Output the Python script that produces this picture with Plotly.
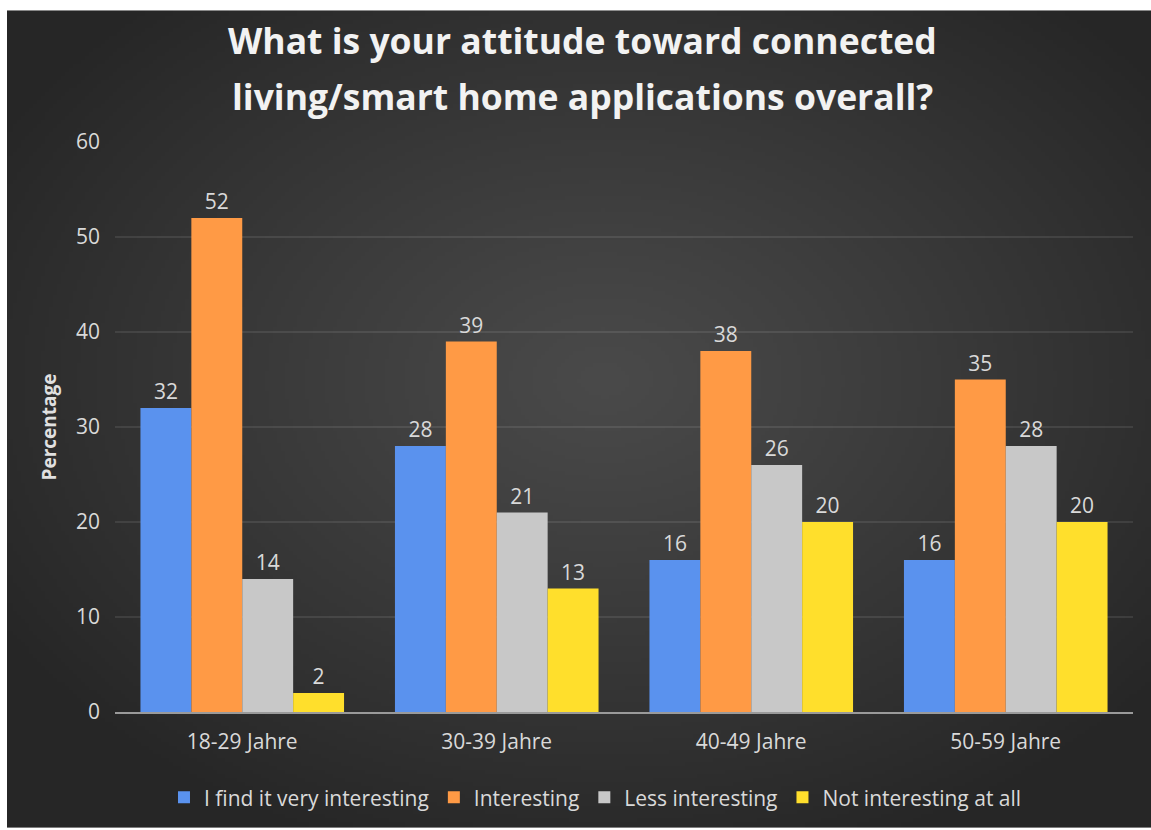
import base64
import struct
import zlib

import numpy as np
import plotly.graph_objects as go

# ---------------- data ----------------
categories = ["18-29 Jahre", "30-39 Jahre", "40-49 Jahre", "50-59 Jahre"]
series_names = ["I find it very interesting", "Interesting", "Less interesting", "Not interesting at all"]
very_interesting = [32, 28, 16, 16]
interesting = [52, 39, 38, 35]
less_interesting = [14, 21, 26, 28]
not_interesting = [2, 13, 20, 20]
y_ticks = [0, 10, 20, 30, 40, 50, 60]
title_lines = ["What is your attitude toward connected", "living/smart home applications overall?"]

series_values = [very_interesting, interesting, less_interesting, not_interesting]
colors = ["#5a92ee", "#ff9a45", "#c8c8c8", "#ffdf2c"]

# ---------------- background (radial gradient png) ----------------
W, H = 1151, 830
L, R, T, B = 115, 18, 142, 116
pw, ph = W - L - R, H - T - B


def make_png(arr):
    h, w, _ = arr.shape
    raw = b"".join(b"\x00" + arr[i].tobytes() for i in range(h))

    def chunk(tag, data):
        c = struct.pack(">I", len(data)) + tag + data
        return c + struct.pack(">I", zlib.crc32(tag + data) & 0xFFFFFFFF)

    return (b"\x89PNG\r\n\x1a\n" + chunk(b"IHDR", struct.pack(">IIBBBBB", w, h, 8, 2, 0, 0, 0))
            + chunk(b"IDAT", zlib.compress(raw, 9)) + chunk(b"IEND", b""))


gw, gh = 286, 205
yy, xx = np.mgrid[0:gh, 0:gw]
cx, cy = gw * 0.52, gh * 0.45
d = np.sqrt(((xx - cx) / (gw * 0.62)) ** 2 + ((yy - cy) / (gh * 0.62)) ** 2)
d = np.clip(d, 0, 1)
inner, outer = 74, 38
val = (inner + (outer - inner) * d ** 1.1).astype(np.uint8)
img = np.stack([val, val, val], axis=-1)
uri = "data:image/png;base64," + base64.b64encode(make_png(img)).decode()

bx0, by0 = 7, 10
img_x = (bx0 - L) / pw
img_y = (H - B - by0) / ph
img_sx = (W - bx0) / pw
img_sy = (H - by0) / ph


def py(pixel_y):
    return (H - B - pixel_y) / ph


# ---------------- figure ----------------
fig = go.Figure()
for name, vals, col in zip(series_names, series_values, colors):
    fig.add_trace(go.Bar(
        x=categories, y=vals, name=name,
        marker=dict(color=col, line=dict(width=0)),
        text=[str(v) for v in vals], textposition="outside",
        textfont=dict(color="#d9d9d9", size=21, family="Open Sans"),
        cliponaxis=False,
    ))

annotations = []
for line, ypix in zip(title_lines, [40, 96]):
    annotations.append(dict(
        text=line, x=0.459, xref="paper", xanchor="center",
        y=py(ypix), yref="paper", yanchor="middle", showarrow=False,
        font=dict(size=35.5, color="#f2f2f2", family="Open Sans", weight="bold"),
    ))

fig.update_layout(
    width=W, height=H,
    margin=dict(l=L, r=R, t=T, b=B),
    paper_bgcolor="white",
    plot_bgcolor="rgba(0,0,0,0)",
    barmode="group", bargap=0.2, bargroupgap=0,
    font=dict(family="Open Sans", color="#d9d9d9", size=21),
    annotations=annotations,
    xaxis=dict(
        showgrid=False, showline=True, linecolor="#9a9a9a", linewidth=2,
        ticks="", tickfont=dict(size=21, color="#d9d9d9"), ticklabelstandoff=10,
    ),
    yaxis=dict(
        range=[0, 60], tickvals=y_ticks, showgrid=True, gridcolor="rgba(255,255,255,0.09)",
        gridwidth=2, zeroline=False, showline=False, ticks="",
        tickfont=dict(size=21, color="#d9d9d9"), ticklabelstandoff=14,
        title=dict(text="<b>Percentage</b>", font=dict(size=19, color="#e0e0e0"), standoff=14),
    ),
    legend=dict(
        orientation="h", x=0.472, xanchor="center", y=py(800), yanchor="middle",
        font=dict(size=21, color="#d9d9d9"), bgcolor="rgba(0,0,0,0)",
        itemwidth=30, tracegroupgap=0,
    ),
    images=[dict(
        source=uri, xref="paper", yref="paper", x=img_x, y=img_y,
        sizex=img_sx, sizey=img_sy, xanchor="left", yanchor="top",
        sizing="stretch", layer="below",
    )],
)

fig.write_html("out.html")
